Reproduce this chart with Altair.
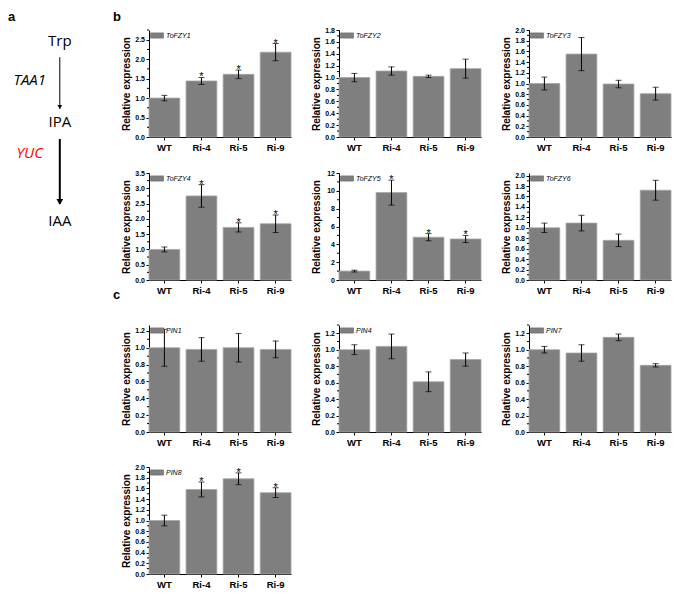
import altair as alt
import pandas as pd
import numpy as np

# ---------------- data ----------------
groups = ["WT", "Ri-4", "Ri-5", "Ri-9"]

genes = ["ToFZY1", "ToFZY2", "ToFZY3", "ToFZY4", "ToFZY5", "ToFZY6",
         "PIN1", "PIN4", "PIN7", "PIN8"]

means = {
    "ToFZY1": [1.00, 1.44, 1.61, 2.18],
    "ToFZY2": [1.00, 1.11, 1.02, 1.15],
    "ToFZY3": [1.00, 1.55, 0.99, 0.81],
    "ToFZY4": [1.00, 2.75, 1.72, 1.84],
    "ToFZY5": [1.00, 9.80, 4.80, 4.60],
    "ToFZY6": [1.00, 1.09, 0.76, 1.72],
    "PIN1":   [1.00, 0.98, 1.00, 0.98],
    "PIN4":   [1.00, 1.04, 0.61, 0.88],
    "PIN7":   [1.00, 0.96, 1.15, 0.81],
    "PIN8":   [1.00, 1.58, 1.78, 1.52],
}
errors = {
    "ToFZY1": [0.07, 0.09, 0.11, 0.22],
    "ToFZY2": [0.07, 0.07, 0.02, 0.16],
    "ToFZY3": [0.12, 0.31, 0.07, 0.12],
    "ToFZY4": [0.08, 0.37, 0.15, 0.29],
    "ToFZY5": [0.10, 1.40, 0.40, 0.40],
    "ToFZY6": [0.09, 0.15, 0.12, 0.19],
    "PIN1":   [0.22, 0.14, 0.17, 0.10],
    "PIN4":   [0.06, 0.15, 0.12, 0.08],
    "PIN7":   [0.04, 0.10, 0.04, 0.02],
    "PIN8":   [0.10, 0.14, 0.11, 0.09],
}
signif = {
    "ToFZY1": ["", "*", "*", "*"],
    "ToFZY2": ["", "", "", ""],
    "ToFZY3": ["", "", "", ""],
    "ToFZY4": ["", "*", "*", "*"],
    "ToFZY5": ["", "*", "*", "*"],
    "ToFZY6": ["", "", "", ""],
    "PIN1":   ["", "", "", ""],
    "PIN4":   ["", "", "", ""],
    "PIN7":   ["", "", "", ""],
    "PIN8":   ["", "*", "*", "*"],
}
# axis maximum, major tick step, label format
axis_max = {"ToFZY1": 2.75, "ToFZY2": 1.8, "ToFZY3": 2.0, "ToFZY4": 3.5,
            "ToFZY5": 12, "ToFZY6": 2.05, "PIN1": 1.27, "PIN4": 1.3,
            "PIN7": 1.3, "PIN8": 2.0}
axis_step = {"ToFZY1": 0.5, "ToFZY2": 0.2, "ToFZY3": 0.2, "ToFZY4": 0.5,
             "ToFZY5": 2, "ToFZY6": 0.2, "PIN1": 0.2, "PIN4": 0.2,
             "PIN7": 0.2, "PIN8": 0.2}
axis_fmt = {g: ".1f" for g in genes}
axis_fmt["ToFZY5"] = "d"

# pathway diagram (panel a)
pathway_nodes = ["Trp", "IPA", "IAA"]
node_level = [0.0, 1.0, 2.22]
enzymes = ["TAA1", "YUC"]
enzyme_level = [0.48, 1.38]
enzyme_colors = ["#000000", "#ff0000"]
arrow_start = [0.20, 1.21]
arrow_end = [0.84, 2.01]

# ---------------- styling ----------------
FONT = "Liberation Sans"
W, H = 142, 107
BAR = "#7f7f7f"
LETTER_Y = -8.6


def panel(gene, letter=None, letter_visible=True, letter_y=LETTER_Y):
    m = means[gene]
    e = errors[gene]
    df = pd.DataFrame({
        "group": groups,
        "mean": m,
        "low": [a - b for a, b in zip(m, e)],
        "high": [a + b for a, b in zip(m, e)],
        "sig": signif[gene],
        "gene": gene,
    })
    ymax = axis_max[gene]
    step = axis_step[gene]
    ticks = [round(v, 3) for v in np.arange(0, ymax + 1e-9, step)]
    minor = [round(v, 3) for v in np.arange(step / 2, ymax + 1e-9, step)]

    yscale = alt.Scale(domain=[0, ymax], nice=False, zero=True)
    yaxis = alt.Axis(values=ticks, format=axis_fmt[gene], labelFontSize=7,
                     labelFontWeight="bold", titleFontSize=10,
                     titleFontWeight="bold", tickSize=3, labelPadding=1.5,
                     minExtent=15, maxExtent=15, titlePadding=3)

    def Y(field):
        return alt.Y(field, type="quantitative", scale=yscale, axis=yaxis,
                     title="Relative expression")

    x = alt.X("group:N", sort=groups, title=None,
              scale=alt.Scale(paddingInner=0.17, paddingOuter=0.0),
              axis=alt.Axis(labelAngle=0, labelFontSize=9.5,
                            labelFontWeight="bold", tickSize=3,
                            labelPadding=2))
    base = alt.Chart(df).encode(x=x)

    bars = base.mark_bar(stroke="#a6a6a6", strokeWidth=0.8).encode(
        y=Y("mean"),
        color=alt.Color("gene:N", scale=alt.Scale(range=[BAR]),
                        legend=alt.Legend(
                            title=None, orient="none", legendX=1, legendY=-1.5,
                            padding=0, symbolType="M-1,-0.4H1V0.4H-1Z",
                            symbolSize=169, symbolStrokeColor="#666666",
                            symbolStrokeWidth=0.6, symbolOpacity=1,
                            labelFont=FONT, labelFontStyle="italic",
                            labelFontSize=7, labelOffset=2,
                            labelColor="black")),
    )
    rule = base.mark_rule(color="black", strokeWidth=1).encode(
        y=Y("low"), y2="high:Q")
    cap_hi = base.mark_tick(color="black", size=6, thickness=1,
                            orient="horizontal").encode(y=Y("high"))
    cap_lo = base.mark_tick(color="black", size=6, thickness=1,
                            orient="horizontal").encode(y=Y("low"))
    stars = base.mark_text(font=FONT, fontSize=11, color="black",
                           baseline="alphabetic", dy=3).encode(
        y=Y("high"), text="sig:N")
    minor_ticks = alt.Chart(pd.DataFrame({"v": minor})).mark_rule(
        color="black", strokeWidth=1).encode(
        y=Y("v"), x=alt.value(-2), x2=alt.value(0))

    layers = [bars, rule, cap_hi, cap_lo, stars, minor_ticks]
    if letter is not None:
        lab = alt.Chart(pd.DataFrame({"t": [letter]})).mark_text(
            font=FONT, fontSize=13, fontWeight="bold", align="left",
            baseline="alphabetic", color="black",
            opacity=1 if letter_visible else 0).encode(
            text="t:N", x=alt.value(-36), y=alt.value(letter_y))
        layers.append(lab)
    return alt.layer(*layers).properties(width=W, height=H)


def row(charts):
    return alt.hconcat(*charts, spacing=48, bounds="flush").resolve_scale(
        color="independent").resolve_legend(color="independent")


row1 = row([panel("ToFZY1", "b", True), panel("ToFZY2"), panel("ToFZY3")])
row2 = row([panel("ToFZY4", "b", False, 30), panel("ToFZY5"), panel("ToFZY6")])
row3 = row([panel("PIN1", "c", True, -26), panel("PIN4"), panel("PIN7")])
row4 = row([panel("PIN8", "c", False, 30)])

g1 = alt.vconcat(row1, row2, spacing=17).resolve_scale(
    color="independent").resolve_legend(color="independent")
g2 = alt.vconcat(row3, row4, spacing=16).resolve_scale(
    color="independent").resolve_legend(color="independent")
right = alt.vconcat(g1, g2, spacing=-6).resolve_scale(
    color="independent").resolve_legend(color="independent")

# ---------------- panel a ----------------
node_x = 0.74
enz_x = 0.31
nodes_df = pd.DataFrame({"label": pathway_nodes, "lvl": node_level, "x": node_x})
enz_df = pd.DataFrame({"label": enzymes, "lvl": enzyme_level,
                       "col": enzyme_colors, "x": enz_x})
arr_df = pd.DataFrame({"s": arrow_start, "e": arrow_end, "x": node_x,
                       "w": [1.0, 2.0], "hs": [22, 45]})

ax = alt.Scale(domain=[0, 1])
ay = alt.Scale(domain=[-0.136, 2.617], reverse=True)
A_W, A_H = 70, 223

nodes = alt.Chart(nodes_df).mark_text(font="Open Sans", fontSize=15,
                                      color="black").encode(
    x=alt.X("x:Q", scale=ax, axis=None),
    y=alt.Y("lvl:Q", scale=ay, axis=None), text="label:N")
enz = alt.Chart(enz_df).mark_text(font="Open Sans", fontSize=15,
                                  fontStyle="italic").encode(
    x=alt.X("x:Q", scale=ax, axis=None),
    y=alt.Y("lvl:Q", scale=ay, axis=None), text="label:N",
    color=alt.Color("col:N", scale=None))
shafts = alt.Chart(arr_df).mark_rule(color="black").encode(
    x=alt.X("x:Q", scale=ax, axis=None),
    y=alt.Y("s:Q", scale=ay, axis=None), y2="e:Q",
    strokeWidth=alt.StrokeWidth("w:Q", scale=None))
heads = alt.Chart(arr_df).mark_point(shape="triangle-down", filled=True,
                                     color="black", opacity=1, yOffset=-2).encode(
    x=alt.X("x:Q", scale=ax, axis=None),
    y=alt.Y("e:Q", scale=ay, axis=None),
    size=alt.Size("hs:Q", scale=None))
a_lab = alt.Chart(pd.DataFrame({"t": ["a"]})).mark_text(
    font=FONT, fontSize=13, fontWeight="bold", align="left",
    baseline="alphabetic", color="black").encode(
    text="t:N", x=alt.value(0), y=alt.value(LETTER_Y))
panel_a = alt.layer(nodes, enz, shafts, heads, a_lab).properties(
    width=A_W, height=A_H)

chart = alt.hconcat(panel_a, right, spacing=35).resolve_scale(
    color="independent").resolve_legend(color="independent").configure_view(
    stroke=None).configure_axis(
    domainColor="black", tickColor="black", labelColor="black",
    titleColor="black", labelFont=FONT, titleFont=FONT, grid=False,
    domainWidth=1, tickWidth=1).properties(
    padding={"left": 0, "top": 3, "right": 0, "bottom": 0})

chart.save("out.html", embed_options={"renderer": "svg", "actions": False})
